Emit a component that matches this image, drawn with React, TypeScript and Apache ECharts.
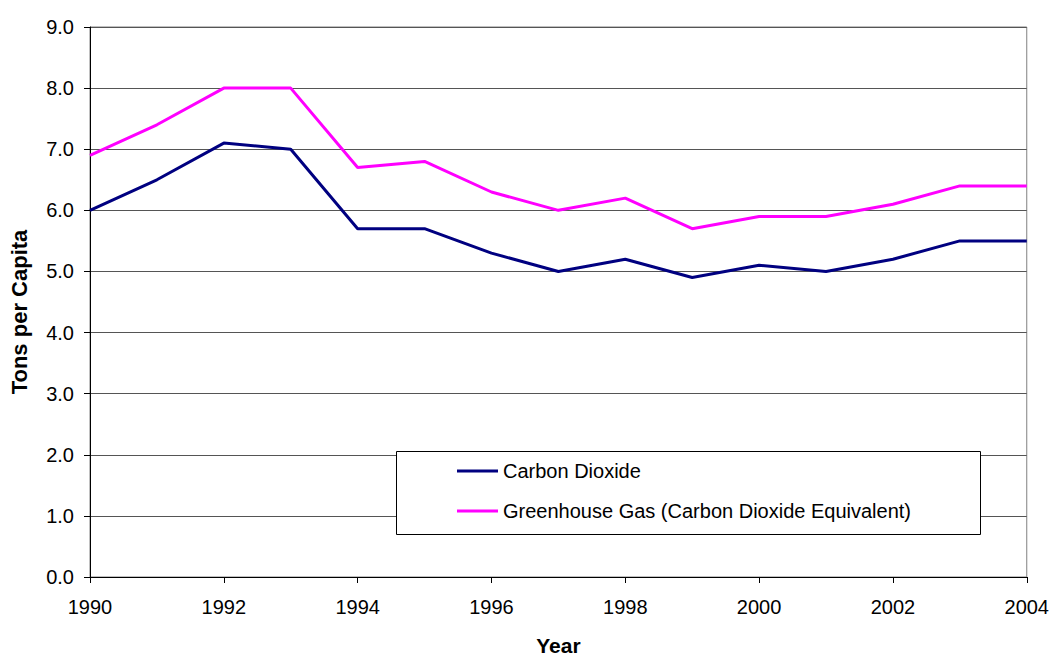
import React, { useEffect, useRef } from "react";
import * as echarts from "echarts";

const years = [1990, 1991, 1992, 1993, 1994, 1995, 1996, 1997, 1998, 1999, 2000, 2001, 2002, 2003, 2004];
const carbonDioxide = [6.0, 6.5, 7.1, 7.0, 5.7, 5.7, 5.3, 5.0, 5.2, 4.9, 5.1, 5.0, 5.2, 5.5, 5.5];
const greenhouseGas = [6.9, 7.4, 8.0, 8.0, 6.7, 6.8, 6.3, 6.0, 6.2, 5.7, 5.9, 5.9, 6.1, 6.4, 6.4];
const seriesNames = ["Carbon Dioxide", "Greenhouse Gas (Carbon Dioxide Equivalent)"];
const yAxisTitle = "Tons per Capita";
const xAxisTitle = "Year";

const FONT = "'Liberation Sans', Arial, sans-serif";

export default function App() {
  const ref = useRef<HTMLDivElement>(null);
  useEffect(() => {
    if (!ref.current) return;
    const chart = echarts.init(ref.current, null, { renderer: "svg" });
    chart.setOption({
      animation: false,
      backgroundColor: "#ffffff",
      textStyle: { fontFamily: FONT },
      grid: {
        left: 90,
        right: 23,
        top: 27,
        bottom: 77,
        show: true,
        borderColor: "#808080",
        borderWidth: 1,
      },
      xAxis: {
        type: "value",
        min: 1990,
        max: 2004,
        interval: 2,
        name: xAxisTitle,
        nameLocation: "middle",
        nameGap: 58,
        nameTextStyle: { fontFamily: FONT, fontSize: 21, fontWeight: "bold", color: "#000" },
        axisLine: { show: true, lineStyle: { color: "#000", width: 1 } },
        axisTick: { show: true, length: 6, lineStyle: { color: "#000" } },
        axisLabel: { fontFamily: FONT, fontSize: 20, color: "#000", margin: 20, formatter: (v: number) => String(v) },
        splitLine: { show: false },
      },
      yAxis: {
        type: "value",
        min: 0,
        max: 9,
        interval: 1,
        axisLine: { show: true, lineStyle: { color: "#000", width: 1 } },
        axisTick: { show: true, length: 6, lineStyle: { color: "#000" } },
        axisLabel: { fontFamily: FONT, fontSize: 20, color: "#000", margin: 16, formatter: (v: number) => v.toFixed(1) },
        splitLine: { show: true, lineStyle: { color: "#555", width: 1 } },
      },
      legend: {
        orient: "vertical",
        left: 457,
        top: 461,
        itemWidth: 41,
        itemHeight: 14,
        itemGap: 20,
        padding: 0,
        textStyle: { fontFamily: FONT, fontSize: 20, lineHeight: 20, color: "#000" },
        icon: "path://M0,5.5 L41,5.5 L41,8.5 L0,8.5 Z",
        data: seriesNames,
        z: 10,
      },
      graphic: [
        {
          type: "rect",
          shape: { x: 396.5, y: 451.5, width: 584, height: 83 },
          style: { fill: "#ffffff", stroke: "#000000", lineWidth: 1 },
          z: 5,
        },
        {
          type: "text",
          x: 19,
          y: 312,
          rotation: Math.PI / 2,
          style: {
            text: yAxisTitle,
            fontFamily: FONT,
            fontSize: 22,
            fontWeight: "bold",
            fill: "#000",
            align: "center",
            verticalAlign: "middle",
          },
          z: 5,
        },
      ],
      series: [
        {
          name: seriesNames[0],
          type: "line",
          data: years.map((y, i) => [y, carbonDioxide[i]]),
          showSymbol: false,
          symbol: "none",
          lineStyle: { color: "#000080", width: 3 },
          itemStyle: { color: "#000080" },
        },
        {
          name: seriesNames[1],
          type: "line",
          data: years.map((y, i) => [y, greenhouseGas[i]]),
          showSymbol: false,
          symbol: "none",
          lineStyle: { color: "#ff00ff", width: 3 },
          itemStyle: { color: "#ff00ff" },
        },
      ],
    });
    return () => chart.dispose();
  }, []);
  return <div ref={ref} style={{ position: "fixed", left: 0, top: 0, width: 1052, height: 661 }} />;
}
